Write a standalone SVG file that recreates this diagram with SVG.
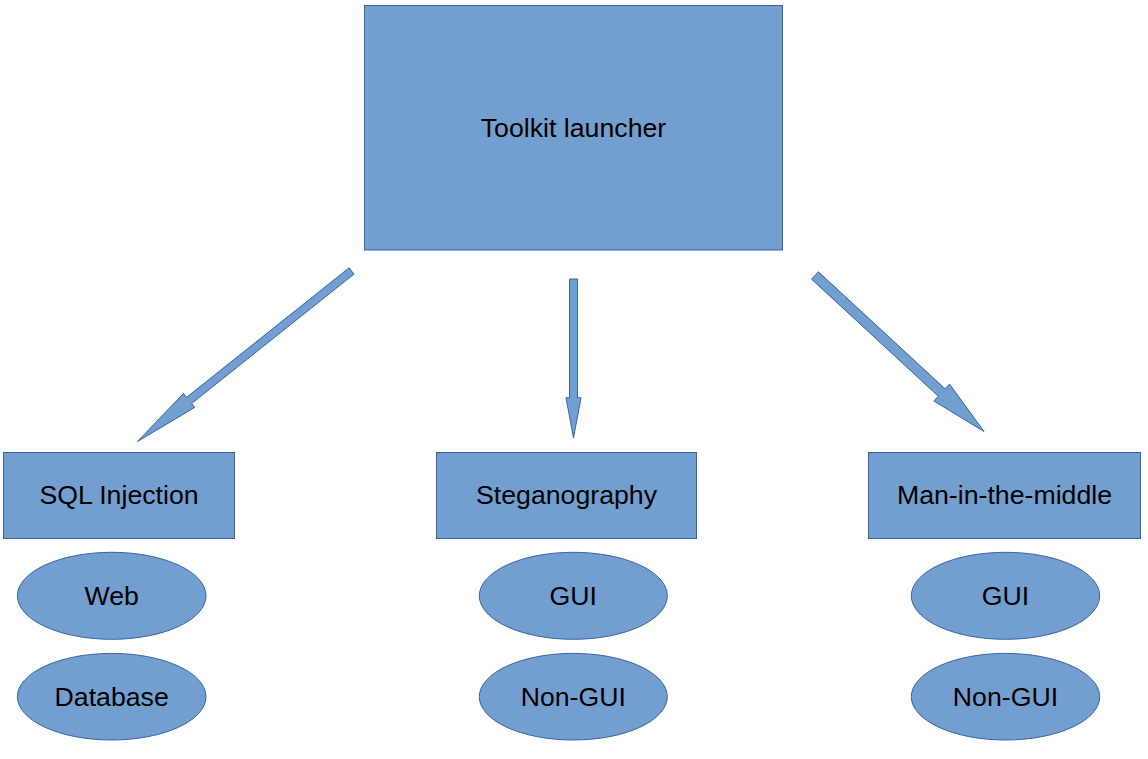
<svg xmlns="http://www.w3.org/2000/svg" width="1148" height="759" viewBox="0 0 1148 759">
<style>
.s{fill:#729fcf;stroke:#3465a4;stroke-width:1}
.t{font-family:"Liberation Sans",Arial,sans-serif;font-size:26.7px;fill:#000;text-anchor:middle}
</style>
<rect width="1148" height="759" fill="#fff"/>
<g id="toolkit"><rect class="s" x="364.5" y="5.5" width="418" height="244.5"/><text class="t" x="573.5" y="136.7">Toolkit launcher</text></g>
<g id="connectors">
<polygon class="s" points="349,267.9 186.6,397.3 183.5,393.4 137.5,441.5 194.7,407.4 191.6,403.5 354,274.1"/>
<polygon class="s" points="569.5,279 577.5,279 577.5,397.7 581,397.7 573.5,438 566,397.7 569.5,397.7"/>
<polygon class="s" points="818.4,271.8 945.1,388.8 949.5,384 984,431.5 933.9,401 938.3,396.2 811.6,279.2"/>
</g>
<g id="sql"><rect class="s" x="3.5" y="452.5" width="231" height="86"/><text class="t" x="119" y="504">SQL Injection</text></g>
<g id="steg"><rect class="s" x="436.5" y="452.5" width="260" height="86"/><text class="t" x="566.5" y="504">Steganography</text></g>
<g id="mitm"><rect class="s" x="868.5" y="452.5" width="272" height="86"/><text class="t" x="1004.5" y="504">Man-in-the-middle</text></g>
<g id="web"><ellipse class="s" cx="111.7" cy="595.8" rx="94.3" ry="43.5"/><text class="t" x="111.7" y="604.8">Web</text></g>
<g id="database"><ellipse class="s" cx="111.7" cy="696.7" rx="94.3" ry="43.3"/><text class="t" x="111.7" y="705.7">Database</text></g>
<g id="steg-gui"><ellipse class="s" cx="573.3" cy="595.8" rx="94" ry="43.5"/><text class="t" x="573.3" y="604.8">GUI</text></g>
<g id="steg-nongui"><ellipse class="s" cx="573.3" cy="696.7" rx="94" ry="43.3"/><text class="t" x="573.3" y="705.7">Non-GUI</text></g>
<g id="mitm-gui"><ellipse class="s" cx="1005.5" cy="595.8" rx="94.2" ry="43.5"/><text class="t" x="1005.5" y="604.8">GUI</text></g>
<g id="mitm-nongui"><ellipse class="s" cx="1005.5" cy="696.7" rx="94.2" ry="43.3"/><text class="t" x="1005.5" y="705.7">Non-GUI</text></g>
</svg>
